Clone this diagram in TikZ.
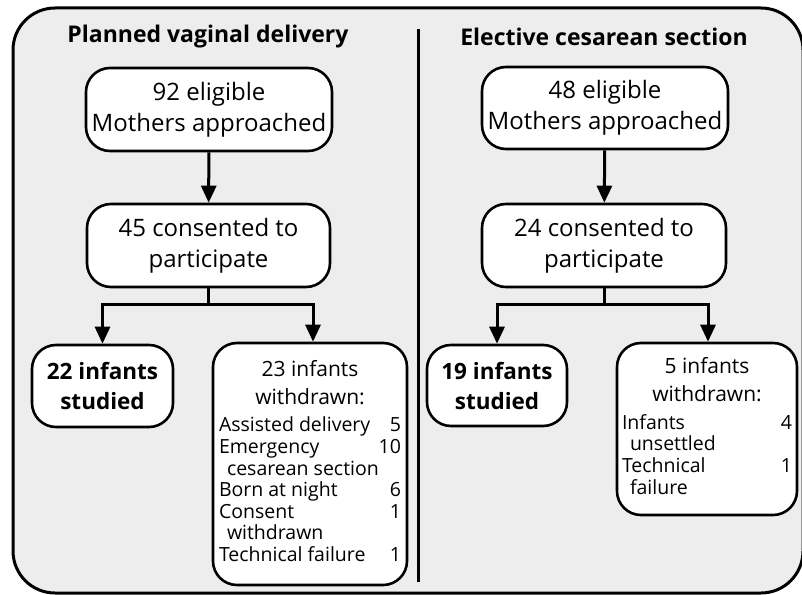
\documentclass[tikz,border=0pt]{standalone}
\usepackage{fontspec}
\setmainfont{Open Sans}
\usetikzlibrary{arrows.meta,calc}
\definecolor{panel}{HTML}{EDEDED}
\tikzset{
  box/.style={draw=black, line width=2.6pt, fill=white, rounded corners=24pt, align=center, inner sep=2pt},
  arr/.style={line width=3pt, -{Triangle[width=15pt,length=17pt]}},
  ln/.style={line width=3pt},
  norm/.style={font=\fontsize{24}{31}\selectfont},
  boldt/.style={font=\bfseries\fontsize{22.5}{30}\selectfont},
  ttl/.style={font=\bfseries\fontsize{23}{26}\selectfont}
}
\newcommand{\wlist}{\fontsize{19.5}{21.6}\selectfont}
\newcommand{\whead}{\fontsize{21}{28}\selectfont}
\begin{document}
\begin{tikzpicture}[x=1pt,y=-1pt]
\useasboundingbox (0,0) rectangle (802,594);
\clip (0,0) rectangle (802,594);
\draw[line width=3pt, fill=panel, rounded corners=42pt] (13,8) rectangle (803,593);
\coordinate (dtop) at (418,29);
\coordinate (dbot) at (418,582);
\draw[ln] (dtop) -- (dbot);
\node[ttl] (tl) at (208,37) {Planned vaginal delivery};
\node[ttl] (tr) at (604,37) {Elective cesarean section};
% left column
\node[box, norm, minimum width=246pt, minimum height=83pt] (L1) at (209,109.5) {92 eligible\\Mothers approached};
\node[box, norm, minimum width=243pt, minimum height=83pt] (L2) at (208.5,245.5) {45 consented to\\participate};
\node[box, boldt, minimum width=141pt, minimum height=82pt] (Ls) at (102.5,386) {22 infants\\studied};
\node[box, minimum width=194pt, minimum height=242pt, inner sep=4pt] (Lw) at (310,464) {\parbox{182pt}{\centering\whead 23 infants\\withdrawn:\par\vspace{6pt}\wlist\raggedright
Assisted delivery\hfill 5\\
Emergency\hfill 10\\
\hspace*{8pt}cesarean section\\
Born at night\hfill 6\\
Consent\hfill 1\\
\hspace*{8pt}withdrawn\\
Technical failure\hfill 1\par\vspace{6pt}}};
% right column
\node[box, norm, minimum width=246pt, minimum height=82pt] (R1) at (605,108) {48 eligible\\Mothers approached};
\node[box, norm, minimum width=244pt, minimum height=83pt] (R2) at (604,245.5) {24 consented to\\participate};
\node[box, boldt, minimum width=140pt, minimum height=81pt] (Rs) at (497,385.5) {19 infants\\studied};
\node[box, minimum width=180pt, minimum height=172pt, inner sep=4pt] (Rw) at (707,429) {\parbox{170pt}{\centering\whead 5 infants\\withdrawn:\par\vspace{6pt}\wlist\raggedright
Infants\hfill 4\\
\hspace*{8pt}unsettled\\
Technical\hfill 1\\
\hspace*{8pt}failure\par\vspace{6pt}}};
% connectors
\draw[arr] (L1) -- (L2);
\draw[arr] (R1) -- (R2);
\coordinate (Lj) at (208.5,304);
\coordinate (Rj) at (604,304);
\draw[ln] (L2.south) -- (Lj);
\draw[ln] (R2.south) -- (Rj);
\draw[arr] (Lj) -| (Ls.north);
\draw[arr] (Lj) -| ([xshift=3pt]Lw.north);
\draw[arr] (Rj) -| (Rs.north);
\draw[arr] (Rj) -| ([xshift=1pt]Rw.north);
\end{tikzpicture}
\end{document}
